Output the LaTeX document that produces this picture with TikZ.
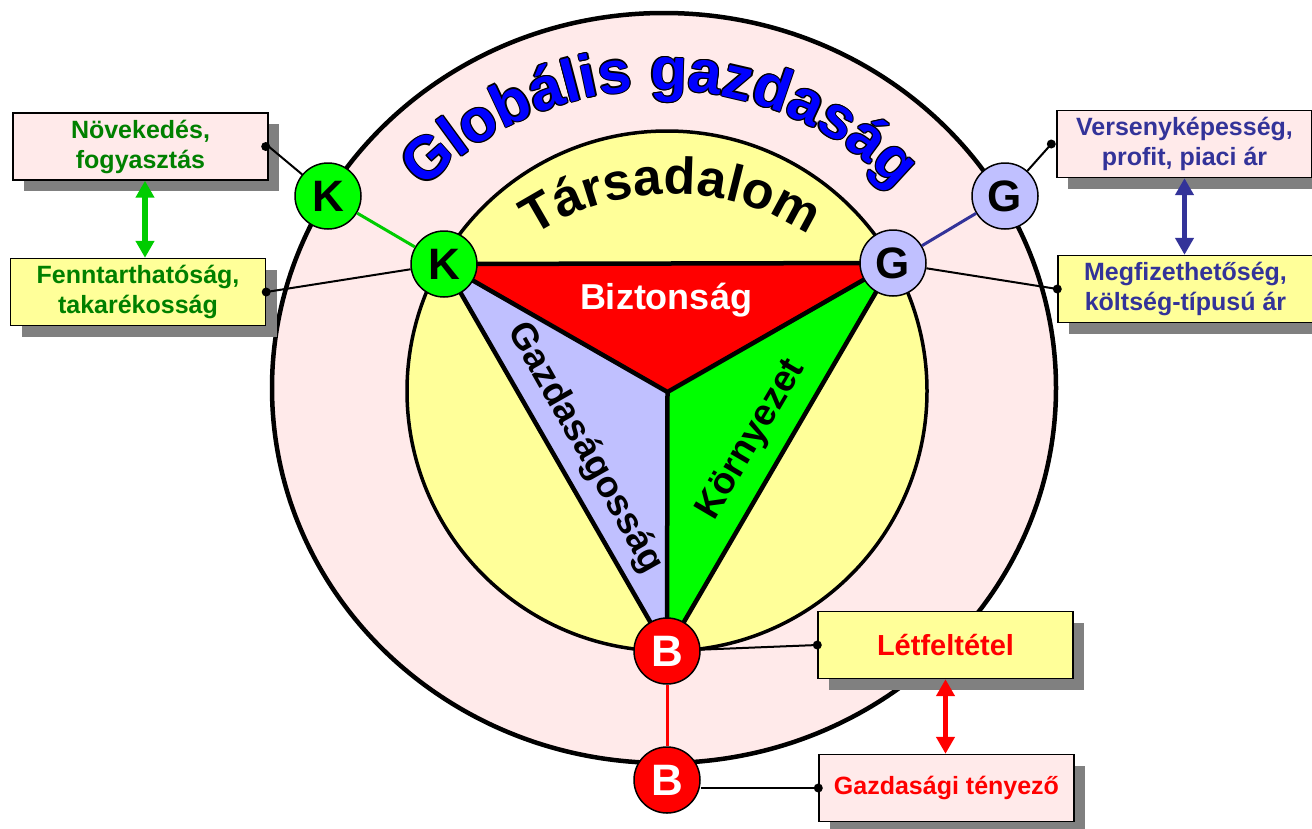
\documentclass[tikz,border=0pt]{standalone}
\usepackage{fontspec}
\setmainfont{Liberation Sans}
\usetikzlibrary{decorations.text,shadows,arrows.meta}
\definecolor{ringpink}{HTML}{FFEAEA}
\definecolor{lightyel}{HTML}{FFFF99}
\definecolor{lav}{HTML}{C0C0FF}
\definecolor{kgreen}{HTML}{00FF00}
\definecolor{lgreen}{HTML}{00CC00}
\definecolor{dgreen}{HTML}{008000}
\definecolor{navy}{HTML}{333399}
\definecolor{shadowgray}{HTML}{808080}
\begin{document}
\begin{tikzpicture}[x=1pt,y=-1pt,
  infobox/.style={draw=black, line width=1.4pt, minimum width=255pt, minimum height=67pt,
    inner sep=0pt, align=center, font=\bfseries\fontsize{25}{30}\selectfont,
    drop shadow={shadow xshift=11pt, shadow yshift=-11pt, fill=shadowgray, opacity=1}},
  pinkbox/.style={infobox, fill=ringpink},
  yelbox/.style={infobox, fill=lightyel},
  letterball/.style={circle, draw=black, line width=1.5pt, minimum size=66pt, inner sep=0pt,
    font=\bfseries\fontsize{44}{44}\selectfont},
  conn/.style={line width=2pt},
  enddot/.style={circle, fill=black, inner sep=0pt, minimum size=9pt},
  twoway/.style={line width=5.5pt, {Triangle[width=18pt,length=17pt]}-{Triangle[width=18pt,length=17pt]}},
  triedge/.style={line width=4.5pt, line join=round},
  sidelabel/.style={font=\bfseries\fontsize{37}{37}\selectfont}
]
\useasboundingbox (0,0) rectangle (1312,828);

% rings
\draw[fill=ringpink, line width=4.5pt] (664,388) ellipse [x radius=392, y radius=375];
\draw[fill=lightyel, line width=3.5pt] (667,391) circle [radius=260];

% title along the outer ring (outlined)
\foreach \a in {0,45,...,315}{
  \path[decorate, decoration={text along path, text align=center,
    text={|\fontsize{60}{60}\selectfont\bfseries\color{black}|Globális gazdaság}}]
    ([shift={(\a:1.2)}]374.2,255) arc[start angle=-150, end angle=-30, radius=330];
}
\path[decorate, decoration={text along path, text align=center,
    text={|\fontsize{60}{60}\selectfont\bfseries\color{blue}|Globális gazdaság}}]
    (374.2,255) arc[start angle=-150, end angle=-30, radius=330];

% Tarsadalom along inner ring
\path[decorate, decoration={text along path, text align=center,
    text={|\fontsize{52}{52}\selectfont\bfseries\color{black}|Társadalom}}]
    (467.8,299.8) arc[start angle=-145, end angle=-35, radius=248];

% triangle
\coordinate (k) at (444,264);
\coordinate (g) at (893,263);
\coordinate (b) at (667,651);
\coordinate (o) at (667.5,392);
\fill[red] (k) -- (g) -- (o) -- cycle;
\fill[lav] (k) -- (o) -- (b) -- cycle;
\fill[kgreen] (o) -- (g) -- (b) -- cycle;
\draw[triedge] (k) -- (g) -- (b) -- cycle;
\draw[triedge] (k) -- (o) -- (g) (o) -- (b);

\node[text=white, font=\bfseries\fontsize{36}{36}\selectfont, anchor=base] (bizt) at (666,309) {Biztonság};
\node[sidelabel, rotate=-60.5] (gazd) at (585,448) {Gazdaságosság};
\node[sidelabel, rotate=59.5] (korny) at (752,440) {Környezet};

% boxes
\node[pinkbox, text=dgreen] (nov) at (140.5,146.5) {Növekedés,\\fogyasztás};
\node[yelbox, text=dgreen] (fen) at (138,292) {Fenntarthatóság,\\takarékosság};
\node[pinkbox, text=navy] (ver) at (1184.5,144) {Versenyképesség,\\profit, piaci ár};
\node[yelbox, text=navy] (meg) at (1185.5,289) {Megfizethetőség,\\költség-típusú ár};
\node[yelbox, text=red, font=\bfseries\fontsize{29}{30}\selectfont] (let) at (945.5,645) {Létfeltétel};
\node[pinkbox, text=red] (gaz) at (946.5,788) {Gazdasági tényező};

% circles
\node[letterball, fill=kgreen] (kin) at (k) {K};
\node[letterball, fill=kgreen] (kout) at (328,196) {K};
\node[letterball, fill=lav] (gin) at (g) {G};
\node[letterball, fill=lav] (gout) at (1005,196) {G};
\node[letterball, fill=red, text=white] (bin) at (b) {B};
\node[letterball, fill=red, text=white] (bout) at (667,780) {B};

% links between circles
\draw[line width=3pt, lgreen] (kout) -- (kin);
\draw[line width=3pt, navy] (gout) -- (gin);
\draw[line width=3pt, red] (bin) -- (bout);

% connectors to boxes
\draw[conn] (nov.east) -- (kout);
\draw[conn] (fen.east) -- (kin);
\draw[conn] ([xshift=-5pt]ver.west) -- (gout);
\draw[conn] (meg.west) -- (gin);
\draw[conn] (let.west) -- (bin);
\draw[conn] (gaz.west) -- (gaz.west -| bout.east);
\node[enddot] (d1) at ([xshift=-3pt]nov.east) {};
\node[enddot] (d2) at (fen.east) {};
\node[enddot] (d3) at ([xshift=-5pt]ver.west) {};
\node[enddot] (d4) at (meg.west) {};
\node[enddot] (d5) at (let.west) {};
\node[enddot] (d6) at (gaz.west) {};

% two-way arrows
\draw[twoway, lgreen] ([xshift=4.5pt]nov.south) -- ([xshift=4.5pt]nov.south |- fen.north);
\draw[twoway, navy] (ver.south) -- (ver.south |- meg.north);
\draw[twoway, red] (let.south) -- (let.south |- gaz.north);
\end{tikzpicture}
\end{document}
